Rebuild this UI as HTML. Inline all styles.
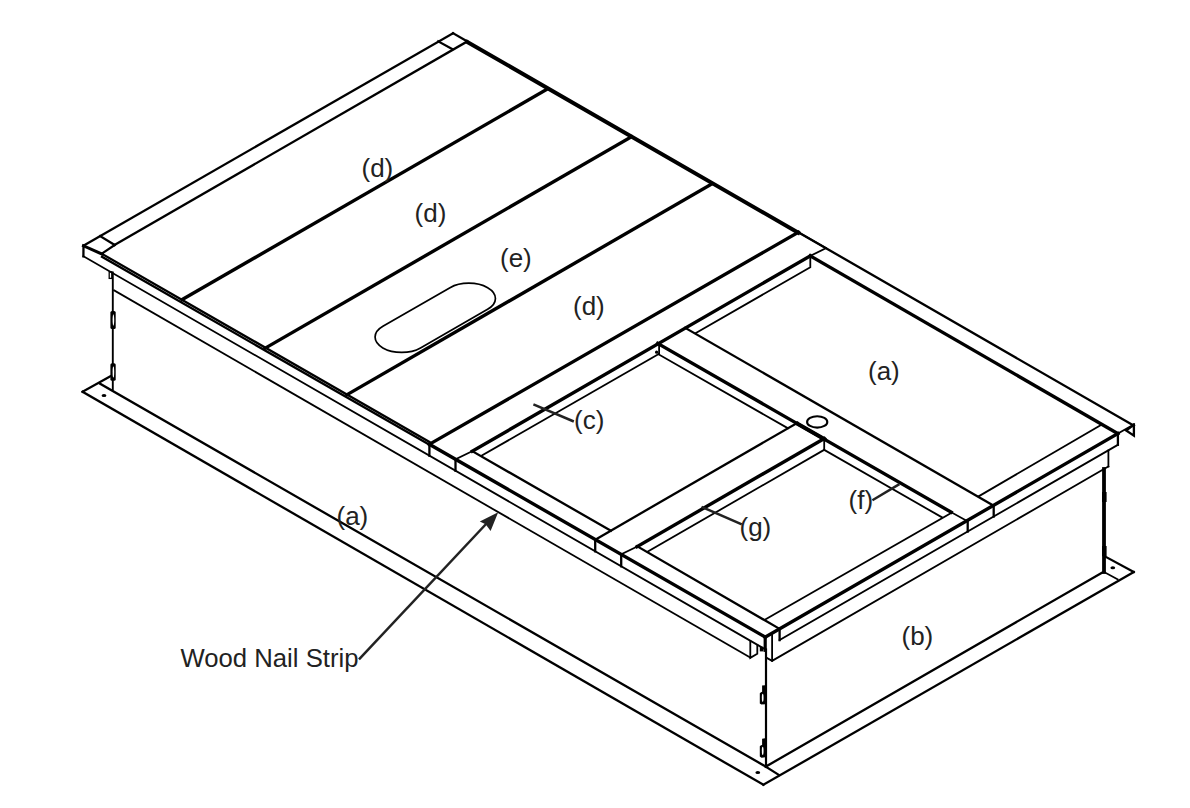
<!DOCTYPE html>
<html><head><meta charset="utf-8"><style>
html,body{margin:0;padding:0;background:#fff;}
svg{display:block;}
text{font-family:"Liberation Sans",sans-serif;font-size:26px;fill:#222;}
</style></head><body>
<svg width="1190" height="808" viewBox="0 0 1190 808">
<g stroke="#000" fill="none" stroke-linecap="square" stroke-linejoin="miter">
<line x1="453" y1="33.2" x2="83.5" y2="245.7" stroke-width="2.3"/>
<line x1="453" y1="33.2" x2="467.3" y2="41.44" stroke-width="2.3"/>
<line x1="467.3" y1="41.94" x2="798.3" y2="232.73" stroke-width="4.0"/>
<line x1="798.3" y1="232.23" x2="1133.9" y2="425.67" stroke-width="2.3"/>
<line x1="467.3" y1="41.44" x2="114.6" y2="245" stroke-width="2.3"/>
<line x1="114.6" y1="245" x2="102.8" y2="253" stroke-width="2.3"/>
<line x1="438.3" y1="41.4" x2="452.5" y2="49.2" stroke-width="2.3"/>
<line x1="100.3" y1="236.2" x2="114.6" y2="245" stroke-width="2.3"/>
<line x1="83.5" y1="245.7" x2="83.4" y2="256.3" stroke-width="2.3"/>
<line x1="83.5" y1="245.8" x2="102" y2="254.12" stroke-width="3.0"/>
<line x1="102" y1="253.92" x2="429.4" y2="441.88" stroke-width="2.3"/>
<line x1="102" y1="256.82" x2="429.4" y2="444.78" stroke-width="2.3"/>
<line x1="429.4" y1="444.28" x2="765.2" y2="637.06" stroke-width="3.4"/>
<line x1="83.4" y1="256.18" x2="765.2" y2="649.31" stroke-width="1.8"/>
<line x1="429.4" y1="444.28" x2="429.4" y2="455.68" stroke-width="2.3"/>
<line x1="455.5" y1="459.27" x2="455.5" y2="470.73" stroke-width="2.3"/>
<line x1="595.2" y1="539.47" x2="595.2" y2="551.28" stroke-width="2.3"/>
<line x1="621.2" y1="554.39" x2="621.2" y2="566.28" stroke-width="2.3"/>
<line x1="765.2" y1="637.06" x2="765.2" y2="650.31" stroke-width="3.2"/>
<line x1="547.3" y1="89.1" x2="182" y2="299.7" stroke-width="3.4"/>
<line x1="631.4" y1="136.8" x2="265" y2="348.3" stroke-width="3.4"/>
<line x1="711.6" y1="184.1" x2="346.9" y2="394.8" stroke-width="3.4"/>
<line x1="798.3" y1="232.23" x2="429.4" y2="444.28" stroke-width="3.4"/>
<line x1="455.5" y1="459.27" x2="472.3" y2="451.2" stroke-width="1.8"/>
<line x1="472.3" y1="451.2" x2="810.3" y2="255.9" stroke-width="3.4"/>
<line x1="798.3" y1="232.23" x2="825.9" y2="248.14" stroke-width="1.8"/>
<line x1="825.9" y1="248.14" x2="810.3" y2="255.9" stroke-width="1.8"/>
<line x1="810.3" y1="255.9" x2="1117.9" y2="433.6" stroke-width="3.4"/>
<polyline points="810.3,258.5 810.3,267.2 695.8,333.1" stroke-width="1.8"/>
<line x1="685.3" y1="327.9" x2="993.2" y2="505.5" stroke-width="2.3"/>
<line x1="657.7" y1="343.4" x2="951.2" y2="512.2" stroke-width="3.4"/>
<line x1="951.2" y1="512.2" x2="967.2" y2="521.1" stroke-width="1.8"/>
<line x1="797.5" y1="423.66" x2="824.2" y2="438.99" stroke-width="4.0"/>
<line x1="481.8" y1="455.6" x2="658.4" y2="354.2" stroke-width="1.8"/>
<line x1="659.1" y1="344" x2="659.1" y2="354.2" stroke-width="1.8"/>
<line x1="658.4" y1="354.2" x2="787.8" y2="428.2" stroke-width="1.8"/>
<line x1="472.3" y1="451.2" x2="610.8" y2="530.7" stroke-width="2.3"/>
<line x1="637" y1="546.2" x2="778.6" y2="628.3" stroke-width="2.3"/>
<line x1="797.5" y1="422.7" x2="595.4" y2="539.58" stroke-width="2.3"/>
<line x1="621.2" y1="554.39" x2="637" y2="546.6" stroke-width="1.8"/>
<line x1="637" y1="546.6" x2="824.2" y2="438.6" stroke-width="3.4"/>
<line x1="824.2" y1="438.6" x2="824.2" y2="449.8" stroke-width="1.8"/>
<line x1="647.4" y1="551.8" x2="824.2" y2="449.8" stroke-width="1.8"/>
<line x1="824.2" y1="449.8" x2="941.7" y2="517.2" stroke-width="1.8"/>
<line x1="1117.9" y1="433.6" x2="765.2" y2="637.1" stroke-width="3.4"/>
<line x1="1117.9" y1="433.6" x2="1133.9" y2="424.5" stroke-width="1.8"/>
<line x1="1100.6" y1="425.3" x2="978.5" y2="496.4" stroke-width="1.8"/>
<line x1="951.2" y1="512.9" x2="764.7" y2="619.8" stroke-width="1.8"/>
<line x1="779.6" y1="640.1" x2="1117.9" y2="444.8" stroke-width="1.8"/>
<line x1="779.6" y1="628.8" x2="779.6" y2="640.1" stroke-width="2.3"/>
<line x1="967.7" y1="520.27" x2="967.7" y2="531.51" stroke-width="2.3"/>
<line x1="993.7" y1="505.26" x2="993.7" y2="516.5" stroke-width="2.3"/>
<line x1="1117.9" y1="433.6" x2="1117.9" y2="444.8" stroke-width="2.3"/>
<polyline points="1133.9,424.5 1133.9,435.7 1126.1,430.5 1131.5,426.6" stroke-width="2.3"/>
<line x1="114.1" y1="290.4" x2="750.3" y2="657.6" stroke-width="1.8"/>
<polyline points="750.3,641 750.3,657.9 757.3,653.8 757.3,645" stroke-width="1.8"/>
<line x1="772.1" y1="634.2" x2="772.1" y2="660.9" stroke-width="1.8"/>
<polyline points="766.7,657.9 772.1,660.9 1108.4,466.5" stroke-width="1.8"/>
<line x1="1108.4" y1="450.5" x2="1108.4" y2="466.5" stroke-width="1.8"/>
<line x1="112.8" y1="272.5" x2="112.8" y2="389.5" stroke-width="1.9"/>
<line x1="766" y1="649.5" x2="766" y2="766.6" stroke-width="2.2"/>
<line x1="1104" y1="469" x2="1104" y2="572" stroke-width="3.8"/>
<line x1="82.6" y1="391.8" x2="763.4" y2="784.8" stroke-width="2.3"/>
<line x1="100.2" y1="383.8" x2="765.8" y2="766.6" stroke-width="2.3"/>
<line x1="82.6" y1="391.8" x2="110.3" y2="376.3" stroke-width="2.3"/>
<line x1="763.4" y1="784.8" x2="1133.7" y2="572" stroke-width="2.3"/>
<line x1="765.8" y1="766.6" x2="1104" y2="571.5" stroke-width="2.3"/>
<line x1="765.8" y1="766.6" x2="779" y2="775" stroke-width="2.3"/>
<line x1="1104" y1="555.9" x2="1133.7" y2="572" stroke-width="2.3"/>
<line x1="1104" y1="572" x2="1117.6" y2="579.4" stroke-width="1.8"/>
</g>
<path d="M762.1,685.6 L765.0,685.2 L765.0,704.2 L761.4,704.6 L759.8,703.4000000000001 L759.8,693.2 L761.0,692.2 L762.1,691.8000000000001 Z" fill="#000"/>
<ellipse cx="762.7" cy="697.8000000000001" rx="0.85" ry="4.1" fill="#fff"/>
<path d="M762.1,738.6999999999999 L765.0,738.3 L765.0,757.3 L761.4,757.6999999999999 L759.8,756.5 L759.8,746.3 L761.0,745.3 L762.1,744.9 Z" fill="#000"/>
<ellipse cx="762.7" cy="750.9" rx="0.85" ry="4.1" fill="#fff"/>
<rect x="110.39999999999999" y="311.0" width="5.3" height="18.0" rx="1.6" fill="#000"/>
<ellipse cx="113.39999999999999" cy="320.0" rx="0.8" ry="5.8" fill="#fff"/>
<rect x="110.39999999999999" y="363.2" width="5.3" height="17.6" rx="1.6" fill="#000"/>
<ellipse cx="113.39999999999999" cy="372.0" rx="0.8" ry="5.6000000000000005" fill="#fff"/>
<rect x="109.2" y="271.8" width="2.6" height="6.6" fill="none" stroke="#000" stroke-width="1.3"/>
<rect x="759.8" y="646.8" width="3.6" height="4.6" fill="#000"/>
<circle cx="656.6" cy="352.2" r="1.6" fill="#000"/>
<rect x="1102" y="492" width="4.6" height="10" fill="#000"/>
<rect x="1102" y="546" width="4.6" height="10" fill="#000"/>
<path d="M450,287.65 L382.9,326.25 A26.6 15.3 0 0 0 420.5,347.95 L487.6,309.35 A26.6 15.3 0 0 0 450,287.65 Z" fill="none" stroke="#000" stroke-width="1.7"/>
<ellipse cx="817.2" cy="421.9" rx="10.1" ry="5.7" fill="none" stroke="#000" stroke-width="2.1"/>
<ellipse cx="104" cy="395.6" rx="2.4" ry="1.5" fill="#000"/>
<ellipse cx="757.8" cy="772.4" rx="2.4" ry="1.5" fill="#000"/>
<ellipse cx="1112.8" cy="567.8" rx="2.4" ry="1.5" fill="#000"/>
<line x1="533.4" y1="404.3" x2="573.8" y2="421.5" stroke="#222" stroke-width="2.5"/>
<line x1="701.5" y1="506.8" x2="741.8" y2="524.4" stroke="#222" stroke-width="2.5"/>
<line x1="899.4" y1="484.1" x2="872.4" y2="500.2" stroke="#222" stroke-width="2.5"/>
<line x1="359" y1="659.4" x2="487" y2="523" stroke="#222" stroke-width="2.5"/>
<polygon points="498.2,512.2 479.8,521.4 485.6,524.2 490.6,531.0" fill="#222"/>
<text x="361.5" y="177.0">(d)</text>
<text x="414.6" y="222.0">(d)</text>
<text x="500.0" y="267.0">(e)</text>
<text x="573.0" y="315.0">(d)</text>
<text x="868.0" y="380.0">(a)</text>
<text x="574.0" y="428.7">(c)</text>
<text x="848.5" y="508.5">(f)</text>
<text x="739.5" y="535.7">(g)</text>
<text x="336.5" y="524.5">(a)</text>
<text x="901.5" y="644.5">(b)</text>
<text x="180.5" y="666.5" style="font-size:25.7px">Wood Nail Strip</text>
</svg>
</body></html>
